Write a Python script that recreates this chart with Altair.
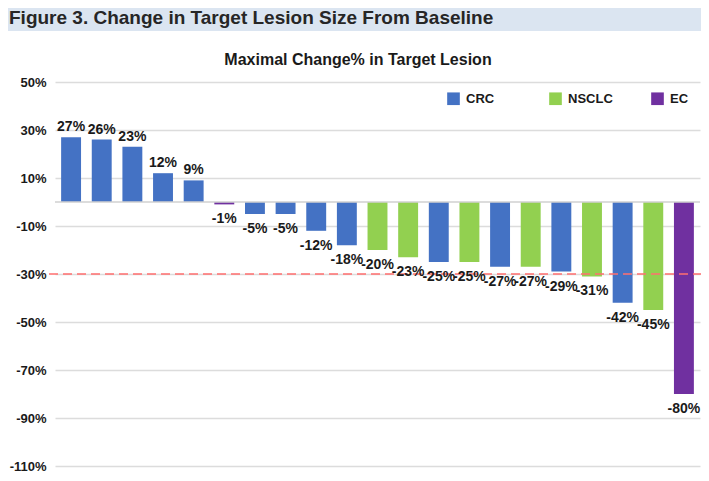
import altair as alt
import pandas as pd

values = [27, 26, 23, 12, 9, -1, -5, -5, -12, -18, -20, -23, -25, -25, -27, -27, -29, -31, -42, -45, -80]
types = ["CRC", "CRC", "CRC", "CRC", "CRC", "EC", "CRC", "CRC", "CRC", "CRC",
         "NSCLC", "NSCLC", "CRC", "NSCLC", "CRC", "NSCLC", "CRC", "NSCLC", "CRC", "NSCLC", "EC"]
categories = ["CRC", "NSCLC", "EC"]
colors = ["#4472C4", "#92D050", "#7030A0"]
y_ticks = [-110, -90, -70, -50, -30, -10, 10, 30, 50]
threshold = -30
fig_title = "Figure 3. Change in Target Lesion Size From Baseline"
chart_title = "Maximal Change% in Target Lesion"

df = pd.DataFrame({
    "id": list(range(len(values))),
    "value": values,
    "type": types,
    "label": [f"{v}%" for v in values],
})
df["pos"] = df["value"] >= 0

W, H = 645, 384
TOP = 74
FONT = "Liberation Sans"

x_enc = alt.X("id:O", axis=None, sort=None,
              scale=alt.Scale(paddingInner=0.35, paddingOuter=0.2))
y_scale = alt.Scale(domain=[-110, 50], nice=False, zero=False)

base = alt.Chart(df)

bars = base.mark_bar().encode(
    x=x_enc,
    y=alt.Y("value:Q", scale=y_scale,
            axis=alt.Axis(values=y_ticks, labelExpr="datum.value + '%'", title=None,
                          domain=False, ticks=False, grid=True, gridColor="#dcdcdc",
                          gridWidth=1.5, labelPadding=9, labelFont=FONT,
                          labelFontSize=13, labelFontWeight="bold", labelColor="#1a1a1a")),
    y2=alt.datum(0),
    color=alt.Color("type:N",
                    scale=alt.Scale(domain=categories, range=colors),
                    legend=alt.Legend(title=None, orient="none", direction="horizontal",
                                      legendX=392, legendY=10, symbolType="square",
                                      symbolSize=160, symbolStrokeWidth=0,
                                      labelFont=FONT, labelFontSize=13,
                                      labelFontWeight="bold", labelColor="#1a1a1a",
                                      labelOffset=6, columnPadding=38, gridAlign="all",
                                      padding=0)),
)

zero_line = alt.Chart(pd.DataFrame({"z": [0]})).mark_rule(color="#d0d0d0", strokeWidth=1.5).encode(
    y=alt.Y("z:Q", scale=y_scale), x=alt.value(0), x2=alt.value(W))

pos_labels = base.transform_filter("datum.pos").mark_text(
    baseline="alphabetic", dy=-6, font=FONT, fontSize=14, fontWeight="bold", color="#1a1a1a"
).encode(x=x_enc, y=alt.Y("value:Q", scale=y_scale), text="label:N")

neg_labels = base.transform_filter("!datum.pos").mark_text(
    baseline="top", dy=8, font=FONT, fontSize=14, fontWeight="bold", color="#1a1a1a"
).encode(x=x_enc, y=alt.Y("value:Q", scale=y_scale), text="label:N")

thr = alt.Chart(pd.DataFrame({"t": [threshold]})).mark_rule(
    color="#ff6f6f", strokeDash=[9, 5], strokeWidth=1.5
).encode(y=alt.Y("t:Q", scale=y_scale), x=alt.value(-6), x2=alt.value(W + 8))

band = alt.Chart(pd.DataFrame({"b": [1]})).mark_rect(color="#dbe5f1").encode(
    x=alt.value(-47), x2=alt.value(W + 1), y=alt.value(-TOP), y2=alt.value(-TOP + 23))

head = alt.Chart(pd.DataFrame({"t": [fig_title]})).mark_text(
    align="left", baseline="middle", font=FONT, fontSize=19,
    fontWeight="bold", color="#262626"
).encode(text="t:N", x=alt.value(-46), y=alt.value(-TOP + 10))

sub = alt.Chart(pd.DataFrame({"t": [chart_title]})).mark_text(
    align="center", baseline="middle", font=FONT, fontSize=16,
    fontWeight="bold", color="#1a1a1a"
).encode(text="t:N", x=alt.value(303), y=alt.value(-22))

chart = alt.layer(band, head, sub, bars, zero_line, thr, pos_labels, neg_labels).properties(
    width=W, height=H,
    padding={"left": 47, "top": TOP, "right": 1, "bottom": 465 - TOP - H},
    autosize="none",
    background="white",
).configure_view(stroke=None)

chart.save("out.html", embed_options={"renderer": "svg", "actions": False})
